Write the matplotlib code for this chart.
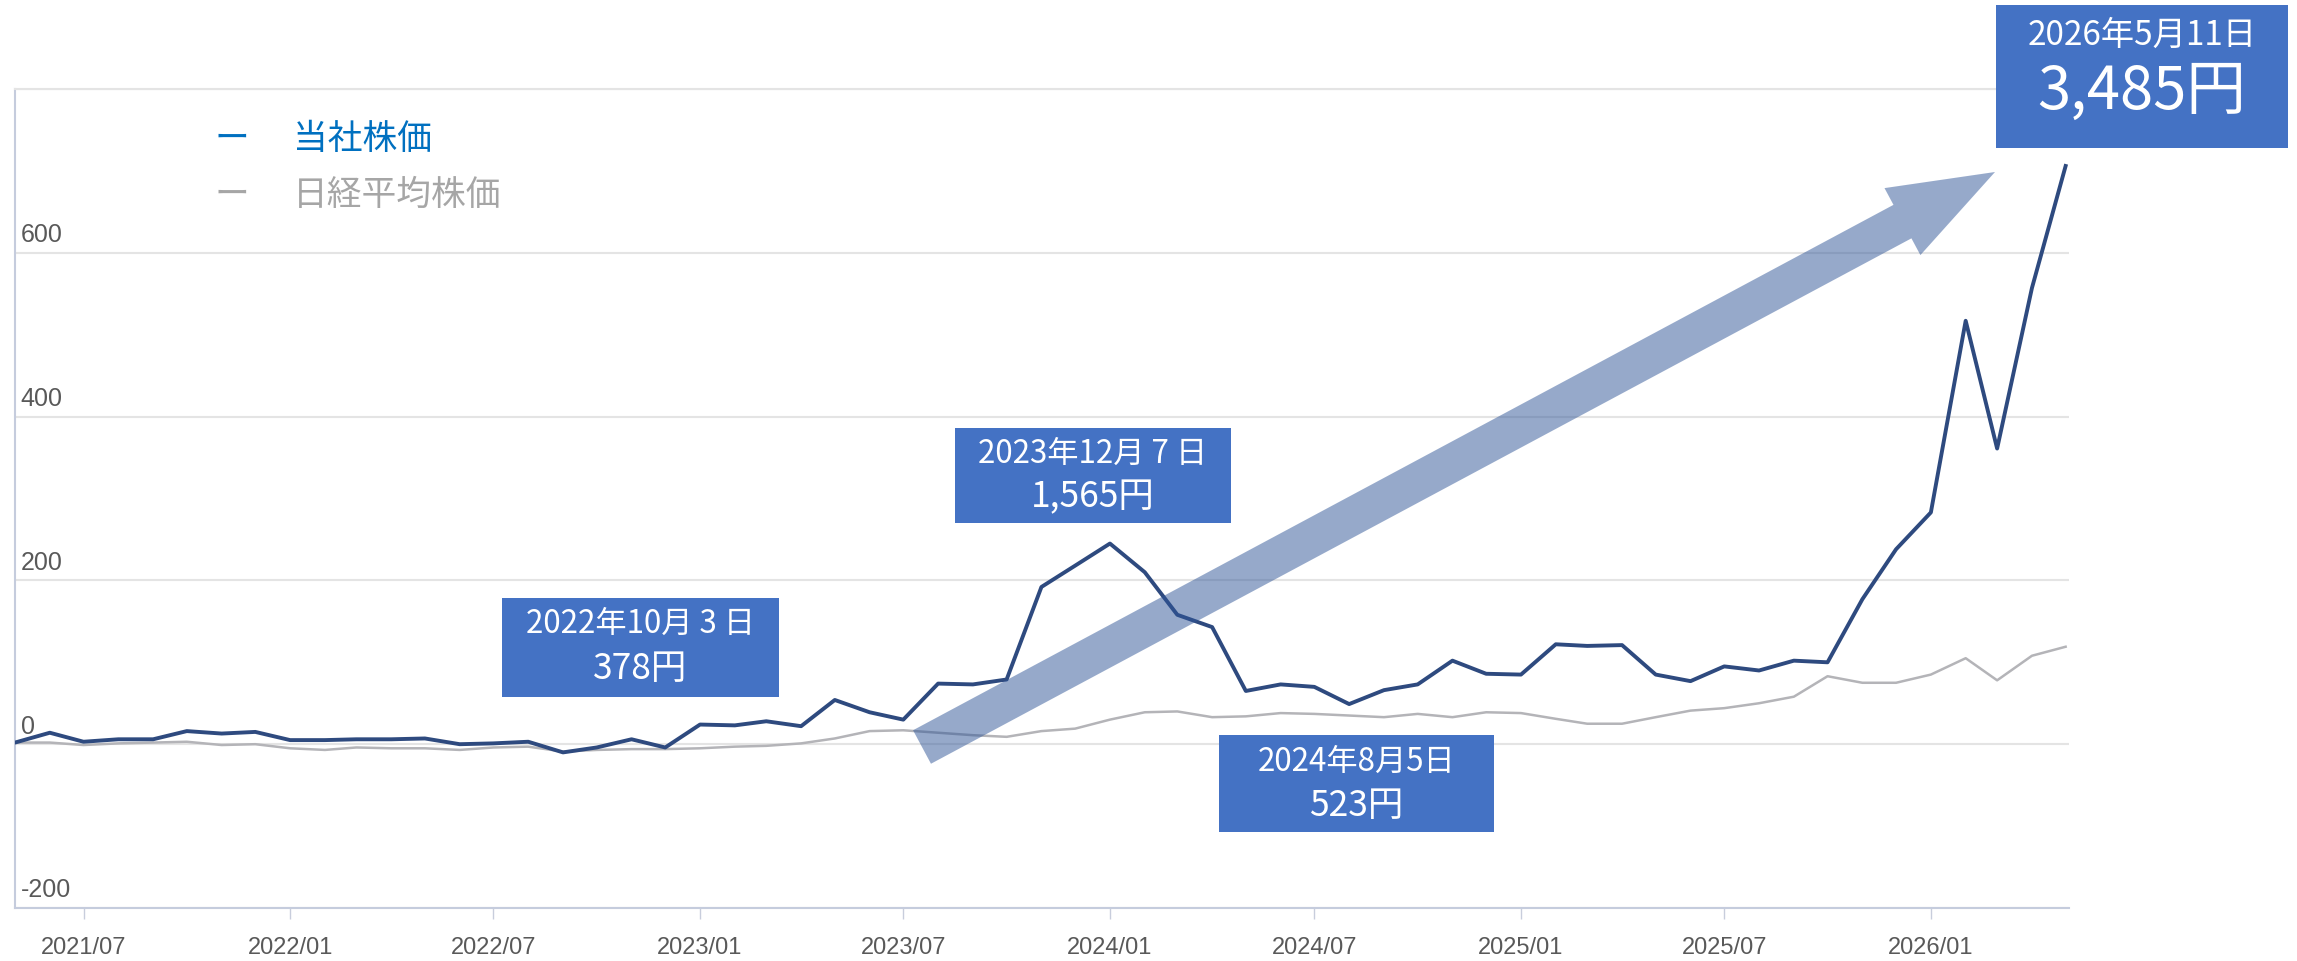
import numpy as np
import pandas as pd
import matplotlib
matplotlib.use('Agg')
import matplotlib.pyplot as plt
from matplotlib.patches import Rectangle, Polygon

plt.rcParams['font.family'] = ['Noto Sans CJK JP', 'DejaVu Sans']

# 月次データ (2021/05 - 2026/05)
months = pd.date_range('2021-05-01', periods=61, freq='MS')
company = [2, 14, 3, 6, 6, 16, 13, 15, 5, 5,
           6, 6, 7, 0, 1, 3, -10, -4, 6, -4,
           24, 23, 28, 22, 54, 39, 30, 74, 73, 79,
           192, 218, 245, 210, 158, 143, 65, 73, 70, 49,
           66, 73, 102, 86, 85, 122, 120, 121, 85, 77,
           95, 90, 102, 100, 177, 238, 283, 517, 361, 557,
           706]
nikkei = [2, 2, -1, 1, 2, 3, -1, 0, -5, -7,
          -4, -5, -5, -7, -4, -3, -9, -7, -6, -6,
          -5, -3, -2, 1, 7, 16, 17, 14, 11, 9,
          16, 19, 30, 39, 40, 33, 34, 38, 37, 35,
          33, 37, 33, 39, 38, 31, 25, 25, 33, 41,
          44, 50, 58, 83, 75, 75, 85, 105, 78, 108,
          119]
y_ticks = [-200, 0, 200, 400, 600]
x_ticks = ['2021-07-01', '2022-01-01', '2022-07-01', '2023-01-01', '2023-07-01',
           '2024-01-01', '2024-07-01', '2025-01-01', '2025-07-01', '2026-01-01']
x_tick_labels = ['2021/07', '2022/01', '2022/07', '2023/01', '2023/07',
                 '2024/01', '2024/07', '2025/01', '2025/07', '2026/01']
series_names = ['当社株価', '日経平均株価']
callout_dates = ['2022年10月 3 日', '2023年12月 7 日', '2024年8月5日', '2026年5月11日']
callout_prices = ['378円', '1,565円', '523円', '3,485円']

# レイアウト (ピクセル)
W, H = 2297, 961
def fx(x):
    return x / W
def fy(y):
    return 1 - y / H

BLUE_LINE = '#2E4A7F'
GRAY_LINE = '#B4B4B8'
BOX = '#4472C4'
NARROW = ['Liberation Sans', 'DejaVu Sans']

fig = plt.figure(figsize=(W / 100, H / 100), dpi=100)
ax = fig.add_axes([fx(15), fy(908), (2069 - 15) / W, (908 - 89) / H])

ax.plot(months, nikkei, color=GRAY_LINE, lw=1.8, zorder=3)
ax.plot(months, company, color=BLUE_LINE, lw=2.8, zorder=4)

ax.set_xlim(months[0], pd.Timestamp('2026-05-04'))
ax.set_ylim(-200, 800)
ax.set_yticks(y_ticks + [800])
ax.tick_params(axis='y', length=0, labelleft=False)
ax.grid(axis='y', color='#E4E4E4', lw=1.5)
ax.set_axisbelow(True)

ax.set_xticks(pd.to_datetime(x_ticks))
ax.set_xticklabels(x_tick_labels, fontsize=17, color='#595959', family=NARROW)
ax.tick_params(axis='x', length=8, width=1, color='#C8CDDC', pad=13)

ax.spines['right'].set_visible(False)
ax.spines['top'].set_color('#E4E4E4')
ax.spines['top'].set_linewidth(1.5)
for side in ['left', 'bottom']:
    ax.spines[side].set_color('#C5CCDD')
    ax.spines[side].set_linewidth(1.5)

# y軸ラベル (グリッド線の上)
for v in y_ticks:
    ax.annotate(str(v), xy=(0, v), xycoords=ax.get_yaxis_transform(),
                xytext=(4, 4), textcoords='offset points',
                ha='left', va='bottom', fontsize=18, color='#595959', family=NARROW)

# 凡例
legend_colors = ['#0070C0', '#A6A6A6']
for name, c, yy in zip(series_names, legend_colors, [139, 195]):
    fig.text(fx(214), fy(yy), 'ー', color=c, fontsize=25, va='center', ha='left')
    fig.text(fx(293), fy(yy), name, color=c, fontsize=25, va='center', ha='left')

# 矢印
tail = np.array([922.0, 747.0])
tip = np.array([1995.0, 172.0])
u = (tip - tail) / np.linalg.norm(tip - tail)
n = np.array([-u[1], u[0]])
w, hw, hl = 19, 38, 105
base = tip - u * hl
pts = [tail + n * w, base + n * w, base + n * hw, tip,
       base - n * hw, base - n * w, tail - n * w]
pts = [(fx(p[0]), fy(p[1])) for p in pts]
fig.add_artist(Polygon(pts, closed=True, transform=fig.transFigure,
                       facecolor='#2F5597', alpha=0.5, edgecolor='none', zorder=5))

# 吹き出しボックス
boxes = [(502, 598, 779, 697), (955, 428, 1231, 523), (1219, 735, 1494, 832), (1996, 5, 2288, 148)]
line_y = [(624, 669), (454, 497), (762, 806), (35, 92)]
sizes = [(22.5, 25.5), (22.5, 25.5), (22.5, 25.5), (24, 43)]
for (x0, y0, x1, y1), (ly1, ly2), (s1, s2), d, p in zip(boxes, line_y, sizes,
                                                         callout_dates, callout_prices):
    fig.add_artist(Rectangle((fx(x0), fy(y1)), (x1 - x0) / W, (y1 - y0) / H,
                             transform=fig.transFigure, facecolor=BOX,
                             edgecolor='none', zorder=6))
    cx = (x0 + x1) / 2
    fig.text(fx(cx), fy(ly1), d, color='white', fontsize=s1, ha='center', va='center', zorder=7)
    fig.text(fx(cx), fy(ly2), p, color='white', fontsize=s2, ha='center', va='center', zorder=7)

fig.savefig('out.png', dpi=100, facecolor='white')
